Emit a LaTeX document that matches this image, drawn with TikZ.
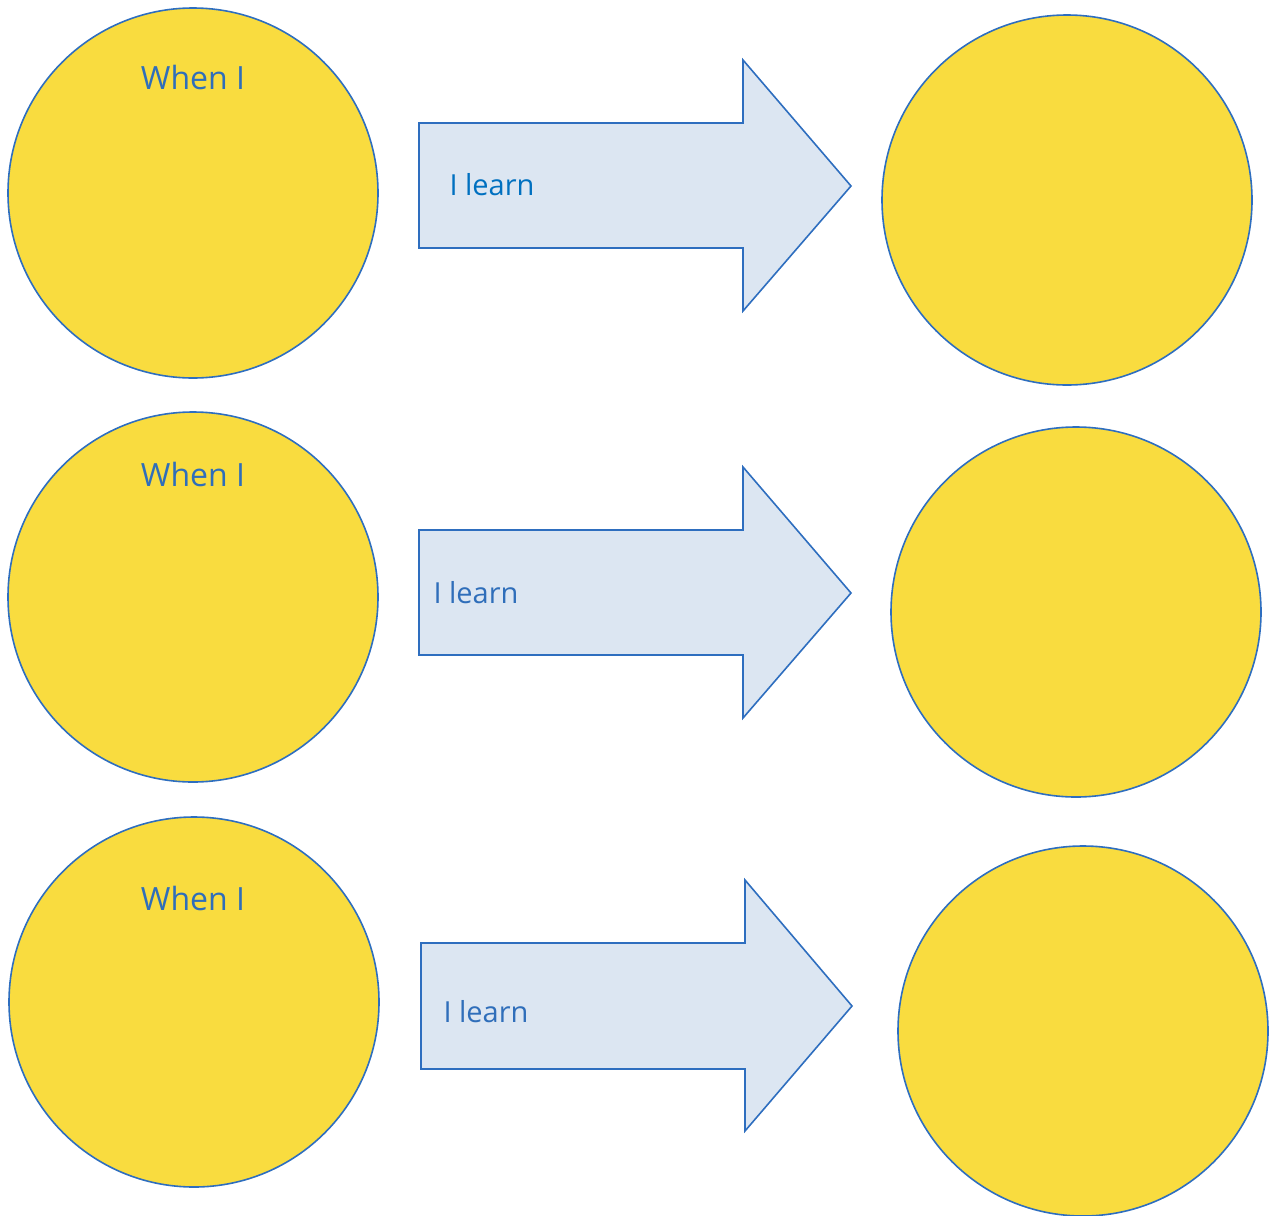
\documentclass[tikz,border=0pt]{standalone}
\usepackage{fontspec}
\setmainfont{Open Sans}
\usepackage{tikz}
\definecolor{sunfill}{HTML}{F9DC3F}
\definecolor{edgeblue}{HTML}{2E6EBF}
\definecolor{arrowfill}{HTML}{DCE6F2}
\definecolor{textblue}{HTML}{2F6EBA}
\definecolor{learnblue}{HTML}{0070C0}
\tikzset{
  sun/.style = {circle, draw = edgeblue, fill = sunfill, line width = 1.6pt,
                minimum size = 370pt, inner sep = 0pt},
  bigarrow/.style = {draw = edgeblue, fill = arrowfill, line width = 1.6pt},
  when/.style = {anchor = base, text = textblue, font = \fontsize{32}{38}\selectfont},
  learn/.style = {anchor = base west, text = textblue, font = \fontsize{29}{35}\selectfont}
}
\begin{document}
\begin{tikzpicture}[x = 1pt, y = -1pt]
\useasboundingbox (0, 0) rectangle (1270, 1216);
% circles on the left
\node[sun] (when1) at (193, 193) {};
\node[sun] (when2) at (193, 597) {};
\node[sun] (when3) at (194, 1002) {};
% circles on the right
\node[sun] (then1) at (1067, 200) {};
\node[sun] (then2) at (1076, 612) {};
\node[sun] (then3) at (1083, 1031) {};
% arrows
\draw[bigarrow] (419, 123) -- (743, 123) -- (743, 60) -- (851, 186)
      -- (743, 311) -- (743, 248) -- (419, 248) -- cycle;
\draw[bigarrow] (419, 530) -- (743, 530) -- (743, 467) -- (851, 593)
      -- (743, 718) -- (743, 655) -- (419, 655) -- cycle;
\draw[bigarrow] (421, 943) -- (745, 943) -- (745, 880) -- (852, 1006)
      -- (745, 1131) -- (745, 1069) -- (421, 1069) -- cycle;
% texts
\node[when] (whentext1) at (193, 89) {When I};
\node[when] (whentext2) at (193, 486) {When I};
\node[when] (whentext3) at (193, 910) {When I};
\node[learn, text = learnblue] (learntext1) at (446, 195) {I learn};
\node[learn] (learntext2) at (430, 603) {I learn};
\node[learn] (learntext3) at (440, 1022) {I learn};
\end{tikzpicture}
\end{document}
